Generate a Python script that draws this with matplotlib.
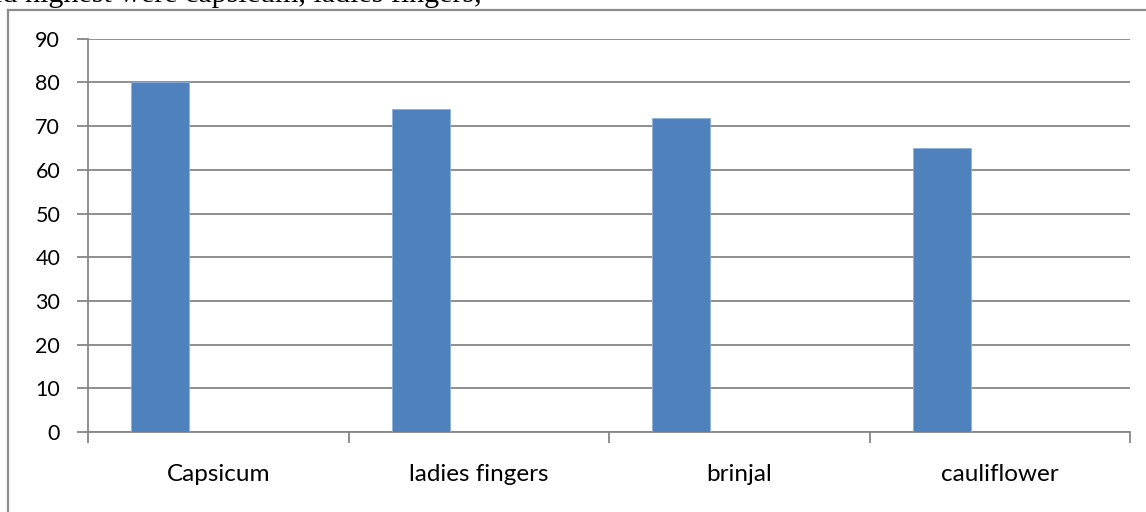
import numpy as np
import matplotlib
matplotlib.use("Agg")
import matplotlib.pyplot as plt
from matplotlib.lines import Line2D

categories = ["Capsicum", "ladies fingers", "brinjal", "cauliflower"]
values = [80.0, 73.8, 71.8, 65.0]
y_ticks = [0, 10, 20, 30, 40, 50, 60, 70, 80, 90]

W, H, DPI = 1146, 512, 100
fig = plt.figure(figsize=(W / DPI, H / DPI), dpi=DPI)
fig.patch.set_facecolor("white")

# plot area in pixel coordinates
left_px, right_px = 88, 1130
bottom_px, top_px = 432, 38.7
ax = fig.add_axes([left_px / W, 1 - bottom_px / H,
                   (right_px - left_px) / W, (bottom_px - top_px) / H])

grey = "#868686"
bar_color = "#4F81BD"
font = ["Lato", "DejaVu Sans"]

# clustered layout: three slots per category, only the first is filled
n_slots, gap = 3, 1.5
bar_w = 1.0 / (n_slots + gap)
x = np.arange(len(categories))
ax.bar(x - bar_w, values, width=bar_w, color=bar_color,
       edgecolor="#8DB0DA", linewidth=0.6, zorder=3)

ax.set_xlim(-0.5, len(categories) - 0.5)
ax.set_ylim(0, 90)
ax.set_yticks(y_ticks)
ax.set_yticklabels([str(t) for t in y_ticks])
ax.yaxis.grid(True, color=grey, linewidth=1.3, zorder=0)
ax.set_axisbelow(True)

ax.set_xticks(x)
ax.set_xticklabels(categories)
ax.set_xticks(np.arange(len(categories) + 1) - 0.5, minor=True)
ax.tick_params(axis="x", which="major", length=0, pad=23)
ax.tick_params(axis="x", which="minor", length=8, width=1.3, color=grey,
               direction="out")
ax.tick_params(axis="y", length=8, width=1.3, color=grey, direction="out",
               pad=12)

for lbl in ax.get_xticklabels():
    lbl.set_fontfamily(font)
    lbl.set_fontsize(17.5)
    lbl.set_color("black")
for lbl in ax.get_yticklabels():
    lbl.set_fontfamily(font)
    lbl.set_fontsize(15.5)
    lbl.set_color("black")

for side in ("top", "right"):
    ax.spines[side].set_visible(False)
for side in ("left", "bottom"):
    ax.spines[side].set_color(grey)
    ax.spines[side].set_linewidth(1.3)

# chart frame (left and top edges)
fx, fy = 7.5 / W, 1 - 9.5 / H
fig.add_artist(Line2D([fx, fx], [fy, 0], transform=fig.transFigure,
                      color="#8C8C8C", linewidth=1.6))
fig.add_artist(Line2D([fx, 1], [fy, fy], transform=fig.transFigure,
                      color="#8C8C8C", linewidth=1.6))

# running text of the page above the chart
fig.text(482 / W, 1 - 2.5 / H,
         "the vegetables sold highest were capsicum, ladies fingers,",
         ha="right", va="baseline", family="Liberation Serif",
         fontsize=21.6, color="black")

fig.savefig("out.png", dpi=DPI)
